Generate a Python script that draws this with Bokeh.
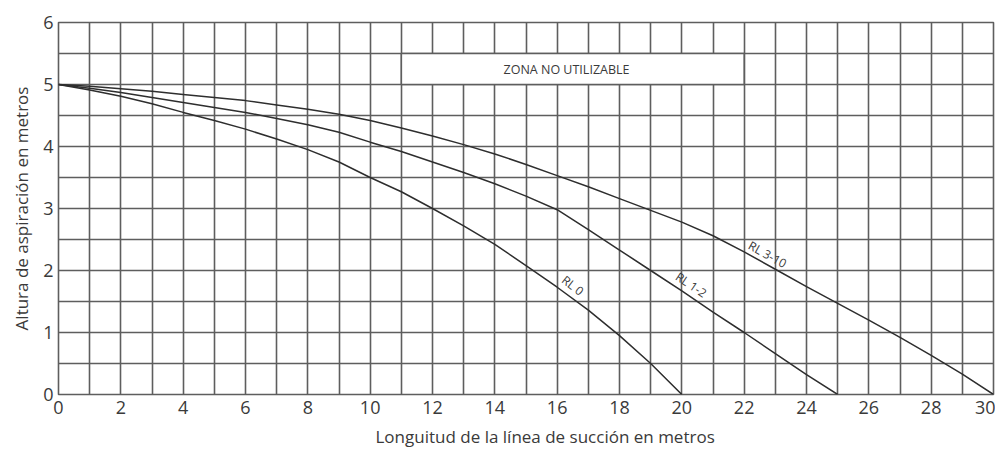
from bokeh.plotting import figure
from bokeh.models import Range1d, FixedTicker, Title
from bokeh.core.properties import value
from bokeh.embed import file_html
from bokeh.resources import INLINE

# ---- data ----
rl0_x = [0, 1, 2, 3, 4, 5, 6, 7, 8, 9, 10, 11, 12, 13, 14, 15, 16, 17, 18, 19, 20]
rl0_y = [5.0, 4.91, 4.81, 4.69, 4.55, 4.42, 4.28, 4.12, 3.95, 3.75, 3.5, 3.27, 3.0,
         2.72, 2.42, 2.08, 1.73, 1.36, 0.95, 0.5, 0.0]

rl12_x = [0, 1, 2, 3, 4, 5, 6, 7, 8, 9, 10, 11, 12, 13, 14, 15, 16, 17, 18, 19, 20,
          21, 22, 23, 24, 25]
rl12_y = [5.0, 4.94, 4.87, 4.79, 4.71, 4.63, 4.55, 4.45, 4.35, 4.23, 4.07, 3.92, 3.75,
          3.58, 3.4, 3.2, 2.98, 2.66, 2.33, 2.0, 1.67, 1.33, 1.0, 0.66, 0.32, 0.0]

rl310_x = [0, 1, 2, 3, 4, 5, 6, 7, 8, 9, 10, 11, 12, 13, 14, 15, 16, 17, 18, 19, 20,
           21, 22, 23, 24, 25, 26, 27, 28, 29, 30]
rl310_y = [5.0, 4.97, 4.93, 4.89, 4.84, 4.79, 4.74, 4.67, 4.6, 4.52, 4.42, 4.3, 4.17,
           4.03, 3.88, 3.71, 3.53, 3.35, 3.16, 2.97, 2.78, 2.56, 2.3, 2.02, 1.74, 1.47,
           1.2, 0.92, 0.63, 0.33, 0.0]

curve_labels = ["RL 0", "RL 1-2", "RL 3-10"]
label_x = [16.5, 20.3, 22.75]
label_y = [1.76, 1.77, 2.26]
label_angle = [-38, -34, -29]

zone_text = "ZONA NO UTILIZABLE"
zone_x = [11, 22]
zone_y = [5.0, 5.5]

x_title = "Longuitud de la línea de succión en metros"
y_title = "Altura de aspiración en metros"

x_ticks = list(range(0, 31, 2))
y_ticks = [0, 1, 2, 3, 4, 5, 6]
x_grid = list(range(0, 31, 1))
y_grid = [i * 0.5 for i in range(0, 13)]

FONT = "Open Sans"
GRID = "#5e5e5e"
TXT = "#3a3a3a"

p = figure(width=995, height=455, output_backend="svg", toolbar_location=None,
           x_range=Range1d(0, 30), y_range=Range1d(0, 6),
           min_border_left=58, min_border_right=2, min_border_top=22,
           min_border_bottom=61)
p.background_fill_color = "white"
p.border_fill_color = "white"
p.outline_line_color = GRID
p.outline_line_width = 1.6

p.xaxis.ticker = FixedTicker(ticks=x_ticks)
p.yaxis.ticker = FixedTicker(ticks=y_ticks)
p.xgrid.ticker = FixedTicker(ticks=x_grid)
p.ygrid.ticker = FixedTicker(ticks=y_grid)
for g in (p.xgrid, p.ygrid):
    g.grid_line_color = GRID
    g.grid_line_width = 1.6
    g.grid_line_alpha = 1.0

for ax in (p.xaxis, p.yaxis):
    ax.axis_line_color = None
    ax.major_tick_line_color = None
    ax.minor_tick_line_color = None
    ax.major_tick_in = 0
    ax.major_tick_out = 0
    ax.minor_tick_out = 0
    ax.major_label_text_font = FONT
    ax.major_label_text_font_size = "18px"
    ax.major_label_text_color = TXT
    ax.axis_label_text_font = FONT
    ax.axis_label_text_font_size = "17px"
    ax.axis_label_text_font_style = "normal"
    ax.axis_label_text_color = TXT

p.yaxis.axis_label = y_title
p.xaxis.major_label_standoff = 6
p.yaxis.major_label_standoff = 5
p.yaxis.axis_label_standoff = 7

# x axis title, placed slightly right of centre as in the reference
p.add_layout(Title(text=x_title, align="left", offset=317, standoff=12,
                   text_font=FONT, text_font_size="17px", text_font_style="normal",
                   text_color=TXT), "below")

# unusable zone box
p.quad(left=zone_x[0], right=zone_x[1], bottom=zone_y[0], top=zone_y[1],
       fill_color="white", line_color=GRID, line_width=1.6)
p.text(x=[(zone_x[0] + zone_x[1]) / 2 - 0.2], y=[(zone_y[0] + zone_y[1]) / 2],
       text=[zone_text], text_font=value(FONT), text_font_size="12.5px",
       text_color=TXT, text_align="center", text_baseline="middle")

# curves
for xs, ys in ((rl0_x, rl0_y), (rl12_x, rl12_y), (rl310_x, rl310_y)):
    p.line(xs, ys, line_color="#2e2e2e", line_width=1.5)

p.text(x=label_x, y=label_y, text=curve_labels, angle=label_angle, angle_units="deg",
       text_font=value(FONT), text_font_size="12px", text_color=TXT,
       text_align="center", text_baseline="middle")

open("out.html", "w").write(file_html(p, INLINE))
